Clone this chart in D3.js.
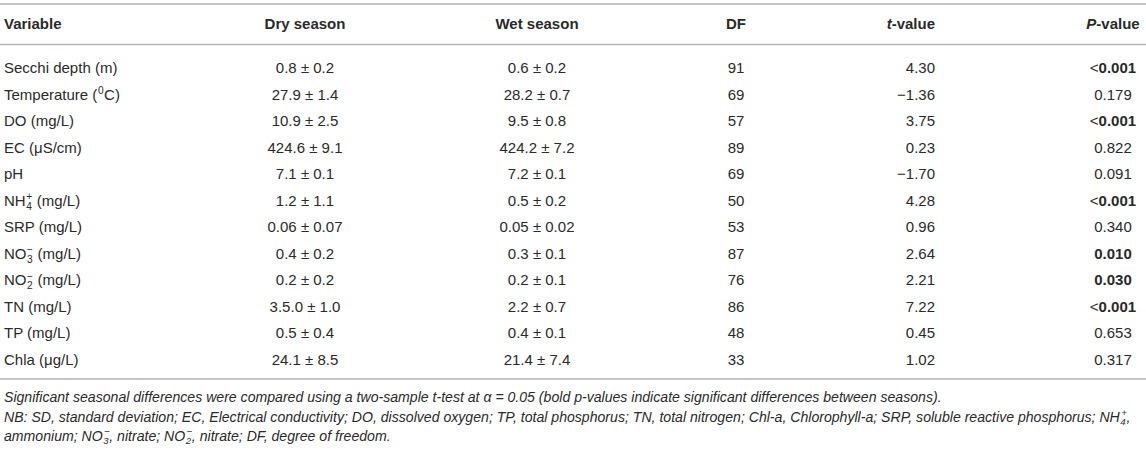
<!DOCTYPE html>
<html><head><meta charset="utf-8">
<script src="https://cdn.jsdelivr.net/npm/d3@7/dist/d3.min.js"></script>
<style>
html,body{margin:0;padding:0;background:#fff;}
svg{display:block;font-family:"Liberation Sans",Arial,Helvetica,sans-serif;}
svg text{white-space:pre;}
</style></head>
<body>
<svg id="chart" width="1146" height="451"></svg>
<script>
// ---- data ----
const variables = ["Secchi depth (m)","Temperature ([^0]C)","DO (mg/L)","EC (\u03bcS/cm)","pH","NH[_4^+] (mg/L)","SRP (mg/L)","NO[_3^\u2212] (mg/L)","NO[_2^\u2212] (mg/L)","TN (mg/L)","TP (mg/L)","Chla (\u03bcg/L)"];
const dryMean = ["0.8","27.9","10.9","424.6","7.1","1.2","0.06","0.4","0.2","3.5.0","0.5","24.1"];
const drySD   = ["0.2","1.4","2.5","9.1","0.1","1.1","0.07","0.2","0.2","1.0","0.4","8.5"];
const wetMean = ["0.6","28.2","9.5","424.2","7.2","0.5","0.05","0.3","0.2","2.2","0.4","21.4"];
const wetSD   = ["0.2","0.7","0.8","7.2","0.1","0.2","0.02","0.1","0.1","0.7","0.1","7.4"];
const dfValues = [91,69,57,89,69,50,53,87,76,86,48,33];
const tValues  = [4.30,-1.36,3.75,0.23,-1.70,4.28,0.96,2.64,2.21,7.22,0.45,1.02];
const pValues  = ["<0.001","0.179","<0.001","0.822","0.091","<0.001","0.340","0.010","0.030","<0.001","0.653","0.317"];
const headers  = ["Variable","Dry season","Wet season","DF","t-value","P-value"];
const footnotes = [
 "Significant seasonal differences were compared using a two-sample t-test at \u03b1 = 0.05 (bold p-values indicate significant differences between seasons).",
 "NB: SD, standard deviation; EC, Electrical conductivity; DO, dissolved oxygen; TP, total phosphorus; TN, total nitrogen; Chl-a, Chlorophyll-a; SRP, soluble reactive phosphorus; NH[_4^+],",
 "ammonium; NO[_3^\u2212], nitrate; NO[_2^\u2212], nitrate; DF, degree of freedom."
];

// ---- layout ----
const W = 1146, H = 451;
const FS = 15, TEXT = "#2a2a2a", RULE = "#b3b3b3";
const svg = d3.select("#chart");
const colX = d3.scaleOrdinal().domain(headers).range([4, 305, 537, 736, 935, 1113]);
const colAnchor = {"Variable":"start","Dry season":"middle","Wet season":"middle","DF":"middle","t-value":"end","P-value":"middle"};
const y = d3.scalePoint().domain(d3.range(variables.length)).range([68, 359.5]);
const base = 5.3;

// rules
[4, 44.5, 379].forEach(v => svg.append("line").attr("x1",0).attr("x2",W).attr("y1",v).attr("y2",v)
  .attr("stroke",RULE).attr("stroke-width",1.6));

// rich text renderer: supports [^sup] and [_sub^sup] stacked
function rich(g, str, x, yy, fs, italic) {
  const parts = str.split(/(\[[^\]]+\])/).filter(s => s.length);
  let cx = x;
  const mk = (t, xx, yb, size) => {
    const el = g.append("text").attr("x", xx).attr("y", yb).attr("font-size", size)
      .attr("fill", TEXT).attr("font-style", italic ? "italic" : "normal").text(t);
    return el.node().getComputedTextLength();
  };
  parts.forEach(p => {
    if (p[0] === "[") {
      const inner = p.slice(1, -1);
      const sub = (inner.match(/_([^\^]*)/) || [])[1];
      const sup = (inner.match(/\^([^_]*)/) || [])[1];
      const small = fs * 0.68;
      let w1 = 0, w2 = 0;
      if (sup !== undefined) w1 = mk(sup, cx + (italic ? 1.5 : 0.5), yy - fs * 0.38, small);
      if (sub !== undefined) w2 = mk(sub, cx + 0.5, yy + fs * 0.25, small);
      cx += Math.max(w1, w2) + 1;
    } else {
      cx += mk(p, cx, yy, fs);
    }
  });
}

// header
const hg = svg.append("g").attr("font-weight","bold");
headers.forEach(h => {
  const t = hg.append("text").attr("x", colX(h)).attr("y", 24 + base).attr("font-size", FS)
    .attr("fill", TEXT).attr("text-anchor", colAnchor[h]);
  if (h === "t-value" || h === "P-value") {
    t.append("tspan").attr("font-style","italic").text(h[0]);
    t.append("tspan").text(h.slice(1));
  } else t.text(h);
});

// body rows
const rows = svg.append("g");
variables.forEach((v, i) => {
  const yb = y(i) + base;
  rich(rows.append("g"), v, colX("Variable"), yb, FS, false);
  const cell = (col, txt) => rows.append("text").attr("x", colX(col)).attr("y", yb)
    .attr("font-size", FS).attr("fill", TEXT).attr("text-anchor", colAnchor[col]).text(txt);
  cell("Dry season", dryMean[i] + " \u00b1 " + drySD[i]);
  cell("Wet season", wetMean[i] + " \u00b1 " + wetSD[i]);
  cell("DF", dfValues[i]);
  cell("t-value", (tValues[i] < 0 ? "\u2212" : "") + Math.abs(tValues[i]).toFixed(2));
  const p = pValues[i];
  const sig = p.startsWith("<") || +p < 0.05;
  const pt = rows.append("text").attr("x", colX("P-value")).attr("y", yb).attr("font-size", FS)
    .attr("fill", TEXT).attr("text-anchor", "middle").attr("font-weight", sig ? "bold" : "normal");
  if (p.startsWith("<")) {
    pt.append("tspan").attr("font-weight","normal").text("<");
    pt.append("tspan").text(p.slice(1));
  } else pt.text(p);
});

// footnotes
const fg = svg.append("g");
const fy = [397, 417, 436];
footnotes.forEach((f, i) => rich(fg.append("g"), f, 4, fy[i] + 4.8, 14.1, true));
</script>
</body></html>
